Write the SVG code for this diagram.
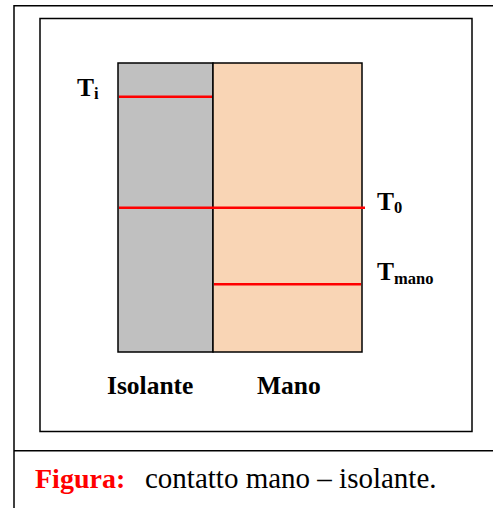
<svg xmlns="http://www.w3.org/2000/svg" width="493" height="508" viewBox="0 0 493 508">
<style>
.frame{fill:none;stroke:#000;stroke-width:1.5}
.edge{stroke:#000;stroke-width:1.5}
.red{stroke:#FF0000;stroke-width:2.5;fill:none}
.lbl{font-family:'Liberation Serif','Times New Roman','DejaVu Serif',serif;font-weight:bold;font-size:25.5px;fill:#000}
.sub{font-size:16.5px}
.cap{font-family:'Liberation Serif','Times New Roman','DejaVu Serif',serif;font-size:29px;fill:#000}
</style>
<rect width="493" height="508" fill="#fff"/>
<g id="frame">
<path class="frame" d="M14,508 V5.7 H493"/>
<line class="frame" x1="14" y1="450.7" x2="493" y2="450.7"/>
<rect class="frame" x="40" y="18.5" width="432" height="413"/>
</g>
<g id="isolante">
<rect x="118" y="63" width="95" height="289" style="fill:#C0C0C0" class="edge"/>
<text class="lbl" x="107" y="394">Isolante</text>
</g>
<g id="mano">
<rect x="213" y="63" width="149" height="289" style="fill:#F9D5B5" class="edge"/>
<text class="lbl" x="257" y="394">Mano</text>
</g>
<g id="connectors">
<line class="red" x1="119" y1="96.7" x2="212" y2="96.7"/>
<line class="red" x1="119" y1="207.7" x2="365" y2="207.7"/>
<line class="red" x1="214" y1="284.3" x2="361" y2="284.3"/>
</g>
<g id="Ti"><text class="lbl" x="77" y="96">T<tspan class="sub" dy="3">i</tspan></text></g>
<g id="T0"><text class="lbl" x="377" y="210">T<tspan class="sub" dy="3">0</tspan></text></g>
<g id="Tmano"><text class="lbl" x="377" y="280">T<tspan class="sub" dy="4">mano</tspan></text></g>
<g id="caption">
<text class="cap" x="35" y="488"><tspan fill="#FF0000" font-weight="bold" font-size="28px">Figura:</tspan><tspan x="145">contatto mano – isolante.</tspan></text>
</g>
</svg>
